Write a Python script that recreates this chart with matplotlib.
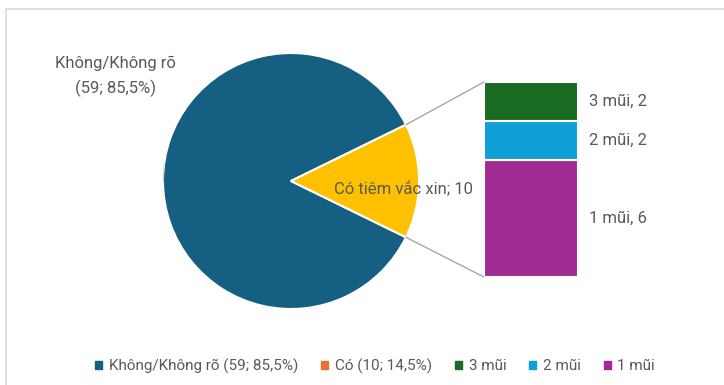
import matplotlib.pyplot as plt
from matplotlib.patches import Patch, Rectangle, ConnectionPatch
import numpy as np

plt.rcParams['font.family'] = ['Roboto', 'DejaVu Sans']

# ---- data ----
pie_labels = ['Không/Không rõ', 'Có tiêm vắc xin']
pie_values = [59, 10]
pie_colors = ['#156082', '#FFC000']

bar_labels = ['1 mũi', '2 mũi', '3 mũi']      # bottom -> top
bar_values = [6, 2, 2]
bar_colors = ['#A02B93', '#0F9ED5', '#196B24']

legend_labels = ['Không/Không rõ (59; 85,5%)', 'Có (10; 14,5%)', '3 mũi', '2 mũi', '1 mũi']
legend_colors = ['#156082', '#E97132', '#196B24', '#0F9ED5', '#A02B93']

txt = '#595959'
W, H = 724, 385
fig = plt.figure(figsize=(W / 100, H / 100), dpi=100)

# chart frame
fig.patches.append(Rectangle((6 / W, -0.1), 1.2, (H - 9) / H + 0.1, transform=fig.transFigure,
                             fill=False, edgecolor='#D9D9D9', lw=1.2))

# ---- pie ----
ax_pie = fig.add_axes([163 / W, 76 / H, 256 / W, 256 / H])
share = pie_values[1] / sum(pie_values)
start = 360 * share / 2
wedges, _ = ax_pie.pie(pie_values, colors=pie_colors, startangle=start, counterclock=True,
                       wedgeprops=dict(edgecolor='white', linewidth=1.5))
ax_pie.set_xlim(-1, 1)
ax_pie.set_ylim(-1, 1)
ax_pie.set_aspect('equal')

n = pie_values[0]
pct = 100 * n / sum(pie_values)
ax_pie.text(-1.37, 0.82, f'{pie_labels[0]}\n({n}; {pct:.1f}%)'.replace('.', ','),
            ha='center', va='center', fontsize=12, color=txt, linespacing=1.65)
ax_pie.plot([-1.02, -1.0], [0.69, 0.0], color='#A6A6A6', lw=1)
ax_pie.text(0.88, -0.055, f'{pie_labels[1]}; {pie_values[1]}', ha='center', va='center',
            fontsize=12, color=txt)

# ---- stacked bar ----
ax_bar = fig.add_axes([484 / W, (H - 277) / H, 94 / W, 195 / H])
bottoms = np.concatenate([[0], np.cumsum(bar_values)[:-1]])
ax_bar.bar([0] * len(bar_values), bar_values, bottom=bottoms, width=1, color=bar_colors,
           edgecolor='white', linewidth=1.5)
ax_bar.set_xlim(-0.5, 0.5)
ax_bar.set_ylim(0, sum(bar_values))
ax_bar.axis('off')
for lab, v, b in zip(bar_labels, bar_values, bottoms):
    ax_bar.annotate(f'{lab}, {v}', (0.5, b + v / 2), xytext=(8, 0), textcoords='offset points',
                    ha='left', va='center', fontsize=12, color=txt)

# connector lines
ang = np.deg2rad(start)
for sgn, yb in [(1, sum(bar_values)), (-1, 0)]:
    con = ConnectionPatch(xyA=(np.cos(ang), sgn * np.sin(ang)), coordsA=ax_pie.transData,
                          xyB=(-0.5, yb), coordsB=ax_bar.transData, color='#A6A6A6', lw=1)
    fig.add_artist(con)

# ---- legend ----
handles = [Patch(color=c) for c in legend_colors]
fig.legend(handles, legend_labels, loc='center', bbox_to_anchor=(0.518, 1 - 366 / H), ncol=5,
           frameon=False, fontsize=11, handlelength=0.45, handleheight=0.45, handletextpad=0.45,
           columnspacing=1.5, labelcolor=txt)

fig.savefig('out.png', dpi=100)
